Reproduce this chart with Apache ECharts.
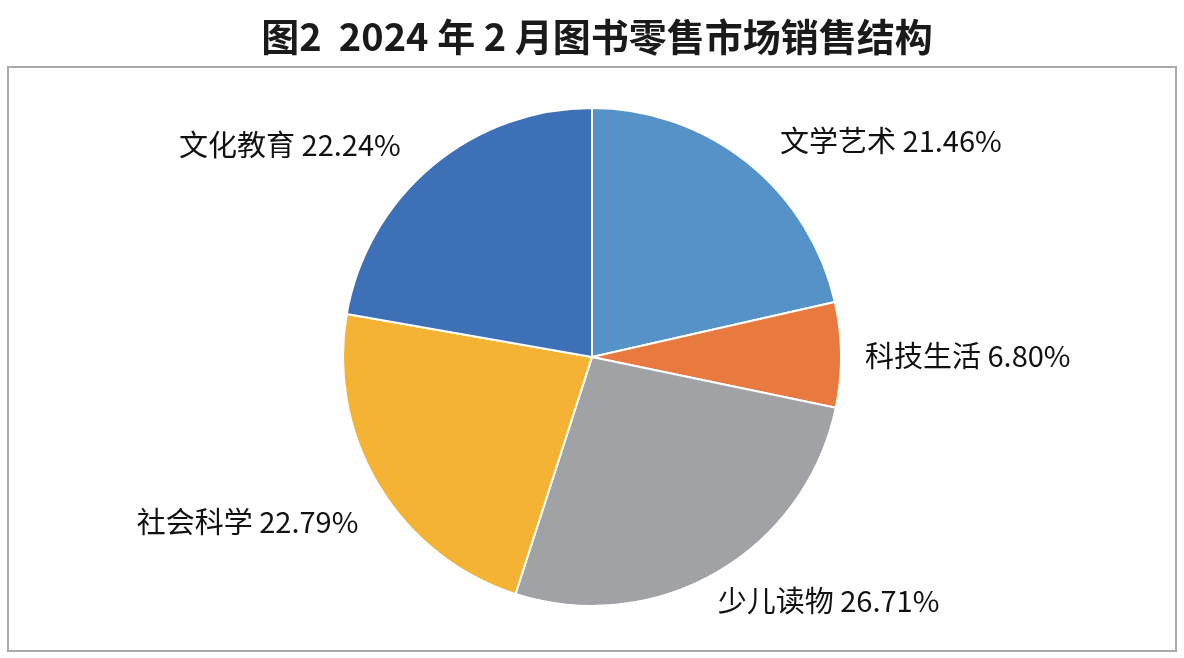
<!DOCTYPE html>
<html>
<head>
<meta charset="utf-8">
<script src="https://cdn.jsdelivr.net/npm/echarts@6/dist/echarts.min.js"></script>
<style>
html,body{margin:0;padding:0;background:#fff;}
#main{width:1184px;height:658px;}
</style>
</head>
<body>
<div id="main"></div>
<script>
const titleText = '图2  2024 年 2 月图书零售市场销售结构';
const categories = ['文学艺术', '科技生活', '少儿读物', '社会科学', '文化教育'];
const shares = [21.46, 6.80, 26.71, 22.79, 22.24];
const colors = ['#5592C8', '#E8793F', '#A1A2A5', '#F4B335', '#3E70B8'];

const labelOffsets = [[2, -2], [-16, 1], [-27, 7], [16, 24], [0, -2]];

const chart = echarts.init(document.getElementById('main'));
chart.setOption({
  backgroundColor: '#fff',
  animation: false,
  title: {
    text: titleText,
    left: 592,
    top: 13,
    textAlign: 'center',
    textStyle: {
      fontFamily: 'Noto Sans CJK SC',
      fontSize: 38,
      fontWeight: 'bold',
      color: '#1a1a1a'
    }
  },
  graphic: [{
    type: 'rect',
    shape: { x: 8, y: 67, width: 1168, height: 584 },
    style: { fill: 'none', stroke: '#aaaaaa', lineWidth: 2 },
    silent: true
  }],
  series: [{
    type: 'pie',
    center: [592, 357],
    radius: 249,
    startAngle: 90,
    clockwise: true,
    avoidLabelOverlap: false,
    itemStyle: { borderColor: '#fff', borderWidth: 2 },
    label: {
      show: true,
      position: 'outside',
      fontFamily: 'Noto Sans CJK SC',
      fontSize: 29,
      color: '#111111',
      formatter: p => p.name + ' ' + p.value.toFixed(2) + '%'
    },
    labelLine: { show: false, length: 25, length2: 10 },
    labelLayout: p => ({ dx: labelOffsets[p.dataIndex][0], dy: labelOffsets[p.dataIndex][1] }),
    data: categories.map((c, i) => ({ name: c, value: shares[i], itemStyle: { color: colors[i] } }))
  }]
});
</script>
</body>
</html>
